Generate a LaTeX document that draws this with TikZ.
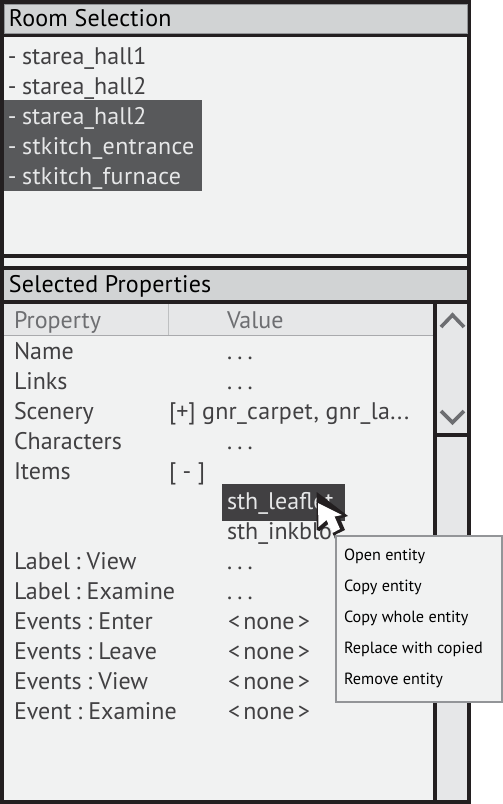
\documentclass[tikz,border=0pt]{standalone}
\usepackage{fontspec}
\setmainfont{PT Sans}
\definecolor{frame}{HTML}{231F20}
\definecolor{panel}{HTML}{F1F2F2}
\definecolor{barc}{HTML}{D1D3D4}
\definecolor{headc}{HTML}{E6E7E8}
\definecolor{selc}{HTML}{58595B}
\definecolor{selb}{HTML}{414042}
\definecolor{txt}{HTML}{414042}
\definecolor{grayt}{HTML}{6D6E71}
\definecolor{edge}{HTML}{939598}
\definecolor{lite}{HTML}{E6E7E8}
\tikzset{
 x=1pt,y=-1pt,
 lab/.style={anchor=base west,inner sep=0pt,outer sep=0pt},
 title/.style={lab,font=\fontsize{24}{24}\selectfont\addfontfeature{LetterSpace=0.9},text=black},
 row/.style={lab,font=\fontsize{24}{24}\selectfont,text=txt},
 seltext/.style={lab,font=\fontsize{24}{24}\selectfont,text=lite},
 headt/.style={lab,font=\fontsize{24}{24}\selectfont,text=grayt},
 menu/.style={lab,font=\fontsize{16.2}{16}\selectfont,text=black},
 dots/.style={lab,font=\fontsize{24}{24}\selectfont,text=txt},
}
\newcommand{\ddd}{.\hspace{5.2pt}.\hspace{5.2pt}.}
\newcommand{\nonetxt}{<\hspace{3.2pt}none\hspace{3.2pt}>}
\newcommand{\wide}{\addfontfeature{LetterSpace=1.5}}
\newcommand{\colsep}{\hspace{5.5pt}:\hspace{6pt}}
\begin{document}
\begin{tikzpicture}
\useasboundingbox (0,0) rectangle (503,804);
\fill[white] (0,0) rectangle (503,804);
% frame
\fill[frame] (0,0) rectangle (471,804);
% top panel
\fill[barc] (4,4) rectangle (467,33);
\fill[panel] (4,37) rectangle (467,254);
\fill[panel] (4,258) rectangle (467,266);
\fill[barc] (4,270) rectangle (467,300);
\draw[edge,line width=.7pt] (4.3,4.3) rectangle (467.4,33);
% table
\fill[panel] (4,304) rectangle (433,800);
\fill[headc] (4,304) rectangle (433,335);
\draw[edge!80,line width=.8pt] (4,335) -- (433,335);
\draw[edge!60,line width=.8pt] (168.5,304) -- (168.5,335);
% scrollbar
\fill[headc] (437,304) rectangle (467,433);
\fill[headc] (437,437) rectangle (467,800);
\draw[grayt,line width=3.6pt] (441,327) -- (452.5,315) -- (464,327);
\draw[grayt,line width=3.6pt] (441,411) -- (452.5,422.5) -- (464,411);
% selections
\fill[selc] (4,100) rectangle (202,191);
\fill[selb] (222,484) rectangle (345,521);
% titles
\node[title] (t1) at (9,26) {Room Selection};
\node[title] (t2) at (9,292) {Selected Properties};
% list
\node[row] (l1) at (8,64) {-\hspace{-1pt} starea\_hall1};
\node[row] (l2) at (8,94) {-\hspace{-1pt} starea\_hall2};
\node[seltext] (l3) at (8,124) {-\hspace{-1pt} starea\_hall2};
\node[seltext] (l4) at (8,154) {-\hspace{-1pt} \wide stkitch\_entrance};
\node[seltext] (l5) at (8,184) {-\hspace{-1pt} \wide stkitch\_furnace};
% header
\node[headt] (hp) at (14,328) {Property};
\node[headt] (hv) at (227,328) {Value};
% rows
\node[row] (r1) at (14,359) {Name};
\node[dots] (v1) at (227,359) {\ddd};
\node[row] (r2) at (14,389) {Links};
\node[dots] (v2) at (227,389) {\ddd};
\node[row] (r3) at (14,419) {Scenery};
\node[row] (v3) at (169,419) {[+] \addfontfeature{LetterSpace=1.2}gnr\_carpet, gnr\_la...};
\node[row] (r4) at (14,449) {Characters};
\node[dots] (v4) at (227,449) {\ddd};
\node[row] (r5) at (14,479) {Items};
\node[row] (v5) at (169,479) {[ - ]};
\node[seltext] (v6) at (227,509) {sth\_leaflet};
\node[row] (v7) at (227,539) {sth\_inkblot};
\node[row] (r8) at (14,569) {Label\colsep View};
\node[dots] (v8) at (227,569) {\ddd};
\node[row] (r9) at (14,599) {Label\colsep Examine};
\node[dots] (v9) at (227,599) {\ddd};
\node[row] (r10) at (14,629) {Events\colsep Enter};
\node[row] (v10) at (228,629) {\nonetxt};
\node[row] (r11) at (14,659) {Events\colsep Leave};
\node[row] (v11) at (228,659) {\nonetxt};
\node[row] (r12) at (14,689) {Events\colsep View};
\node[row] (v12) at (228,689) {\nonetxt};
\node[row] (r13) at (14,719) {Event\colsep Examine};
\node[row] (v13) at (228,719) {\nonetxt};
% cursor
\fill[frame] (316.7,492) -- (348,516) -- (340,518.5) -- (345,530) -- (333.5,535.5) -- (329,523.5) -- (319.5,531) -- (316.7,530) -- cycle;
\fill[white] (318,503) -- (342,515) -- (334.5,516.5) -- (340,529) -- (332.5,533) -- (326.5,520) -- (318.5,527) -- cycle;
% popup
\draw[edge,fill=panel,line width=2pt] (336,536) rectangle (502,702);
\node[menu] (m1) at (344,560) {Open entity};
\node[menu] (m2) at (344,591) {Copy entity};
\node[menu] (m3) at (344,622) {Copy whole entity};
\node[menu] (m4) at (344,653) {Replace with copied};
\node[menu] (m5) at (344,684) {Remove entity};
\end{tikzpicture}
\end{document}
